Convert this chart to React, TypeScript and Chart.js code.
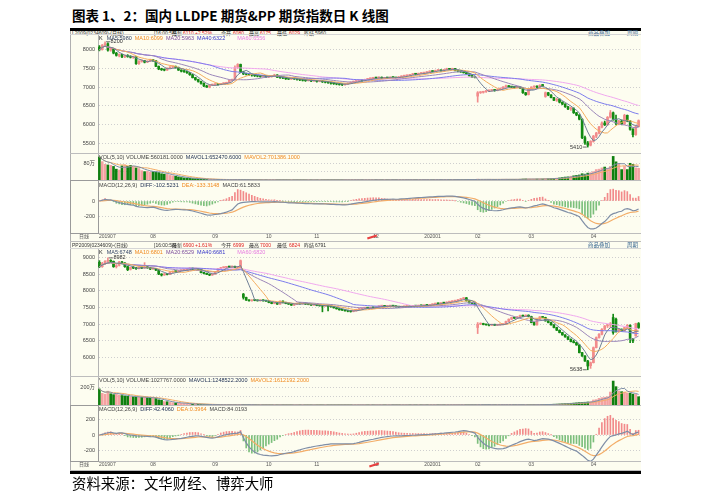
import React, { useEffect, useRef } from 'react';
import { Chart, registerables } from 'chart.js';

Chart.register(...registerables);

// ---------------- data ----------------
const monthNames = ['201907', '08', '09', '10', '11', '12', '202001', '02', '03', '04'];
const monthDays = [19, 22, 19, 17, 21, 20, 16, 19, 22, 17];

const maPeriods = [5, 10, 20, 40, 60];

const lldpePriceTicks = [5500, 6000, 6500, 7000, 7500, 8000];
const ppPriceTicks = [6000, 6500, 7000, 7500, 8000, 8500, 9000];

// [open, high, low, close]
const lldpeOHLC = [
  // Jul
  [8060, 8100, 7960, 7990], [7990, 8130, 7980, 8110], [8110, 8200, 8090, 8150], [8150, 8170, 7950, 7980], [7980, 8050, 7950, 8020],
  [8020, 8030, 7880, 7900], [7900, 7920, 7820, 7840], [7840, 7880, 7800, 7860], [7860, 7870, 7780, 7800], [7800, 7850, 7780, 7830],
  [7830, 7860, 7790, 7810], [7810, 7830, 7770, 7790], [7790, 7820, 7760, 7800], [7800, 7800, 7600, 7620], [7620, 7700, 7600, 7680],
  [7680, 7720, 7660, 7700], [7700, 7710, 7640, 7660], [7660, 7700, 7650, 7690], [7690, 7740, 7680, 7720],
  // Aug
  [7720, 7730, 7680, 7700], [7700, 7710, 7540, 7550], [7550, 7560, 7460, 7480], [7480, 7500, 7440, 7460], [7460, 7480, 7430, 7450],
  [7450, 7510, 7440, 7500], [7500, 7540, 7490, 7530], [7530, 7560, 7510, 7550], [7550, 7560, 7500, 7520], [7520, 7530, 7440, 7450],
  [7450, 7460, 7400, 7420], [7420, 7440, 7390, 7410], [7410, 7420, 7360, 7380], [7380, 7390, 7310, 7330], [7330, 7340, 7240, 7250],
  [7250, 7260, 7180, 7200], [7200, 7210, 7130, 7150], [7150, 7160, 7080, 7100], [7100, 7110, 7010, 7030], [7030, 7050, 6990, 7000],
  [7000, 7060, 6980, 7050], [7050, 7080, 7040, 7060],
  // Sep
  [7060, 7090, 7050, 7080], [7080, 7090, 7050, 7070], [7070, 7100, 7060, 7090], [7090, 7110, 7080, 7100], [7100, 7130, 7090, 7120],
  [7120, 7190, 7110, 7180], [7180, 7210, 7160, 7200], [7200, 7560, 7190, 7520], [7520, 7620, 7500, 7600], [7600, 7610, 7380, 7400],
  [7400, 7420, 7330, 7350], [7350, 7370, 7320, 7340], [7340, 7350, 7310, 7330], [7330, 7340, 7290, 7320], [7320, 7330, 7280, 7300],
  [7300, 7310, 7270, 7290], [7290, 7300, 7260, 7280], [7280, 7320, 7270, 7300], [7300, 7310, 7250, 7270],
  // Oct
  [7270, 7290, 7250, 7280], [7280, 7300, 7260, 7290], [7290, 7340, 7280, 7320], [7320, 7330, 7250, 7260], [7260, 7270, 7230, 7250],
  [7250, 7260, 7220, 7240], [7240, 7250, 7200, 7220], [7220, 7240, 7200, 7210], [7210, 7240, 7200, 7230], [7230, 7240, 7200, 7220],
  [7220, 7230, 7180, 7200], [7200, 7210, 7170, 7190], [7190, 7200, 7160, 7180], [7180, 7190, 7150, 7170], [7170, 7200, 7160, 7180],
  [7180, 7190, 7140, 7160], [7160, 7180, 7150, 7170],
  // Nov
  [7170, 7180, 7130, 7150], [7150, 7170, 7140, 7160], [7160, 7170, 7120, 7140], [7140, 7150, 7110, 7130], [7130, 7140, 7100, 7120],
  [7120, 7130, 7080, 7100], [7100, 7110, 7070, 7090], [7090, 7100, 7060, 7080], [7080, 7090, 7050, 7070], [7070, 7080, 7040, 7060],
  [7060, 7090, 7050, 7080], [7080, 7110, 7070, 7100], [7100, 7140, 7090, 7130], [7130, 7160, 7120, 7150], [7150, 7170, 7140, 7160],
  [7160, 7190, 7150, 7180], [7180, 7190, 7150, 7170], [7170, 7210, 7160, 7200], [7200, 7230, 7190, 7220], [7220, 7240, 7210, 7230],
  [7230, 7260, 7220, 7250],
  // Dec
  [7250, 7260, 7220, 7240], [7240, 7270, 7230, 7260], [7260, 7270, 7220, 7230], [7230, 7260, 7220, 7250], [7250, 7260, 7230, 7240],
  [7240, 7270, 7230, 7260], [7260, 7270, 7240, 7250], [7250, 7260, 7230, 7240], [7240, 7280, 7230, 7270], [7270, 7300, 7260, 7290],
  [7290, 7310, 7280, 7300], [7300, 7320, 7290, 7310], [7310, 7340, 7300, 7330], [7330, 7360, 7320, 7350], [7350, 7360, 7320, 7340],
  [7340, 7370, 7330, 7360], [7360, 7380, 7350, 7370], [7370, 7390, 7360, 7380], [7380, 7410, 7370, 7400], [7400, 7430, 7390, 7420],
  // Jan
  [7420, 7430, 7400, 7410], [7410, 7450, 7400, 7440], [7440, 7460, 7430, 7450], [7450, 7460, 7420, 7430], [7430, 7470, 7420, 7460],
  [7460, 7500, 7450, 7480], [7480, 7490, 7460, 7470], [7470, 7500, 7460, 7490], [7490, 7500, 7430, 7440], [7440, 7450, 7400, 7420],
  [7420, 7430, 7390, 7400], [7400, 7410, 7370, 7380], [7380, 7390, 7340, 7350], [7350, 7360, 7290, 7300], [7300, 7310, 7250, 7260],
  [7260, 7270, 7240, 7250],
  // Feb
  [6760, 6880, 6600, 6850], [6850, 6880, 6830, 6860], [6860, 6890, 6840, 6880], [6880, 6910, 6860, 6900], [6900, 6920, 6880, 6910],
  [6910, 6930, 6890, 6920], [6920, 6930, 6890, 6910], [6910, 6950, 6900, 6930], [6930, 6980, 6920, 6960], [6960, 7010, 6950, 7000],
  [7000, 7050, 6990, 7030], [7030, 7040, 7000, 7010], [7010, 7020, 6980, 7000], [7000, 7010, 6970, 6990], [6990, 7020, 6980, 7000],
  [7000, 7010, 6960, 6980], [6980, 6990, 6830, 6850], [6850, 6860, 6780, 6800], [6800, 6960, 6790, 6950],
  // Mar
  [6950, 7010, 6940, 7000], [7000, 7030, 6990, 7020], [7020, 7030, 6980, 7000], [7000, 7060, 6990, 7050], [7050, 7070, 7020, 7040],
  [6750, 6870, 6730, 6850], [6850, 6860, 6770, 6790], [6790, 6800, 6710, 6720], [6720, 6730, 6640, 6650], [6650, 6700, 6620, 6680],
  [6680, 6690, 6580, 6600], [6600, 6610, 6530, 6550], [6550, 6560, 6460, 6480], [6480, 6490, 6400, 6420], [6420, 6460, 6380, 6440],
  [6440, 6450, 6300, 6320], [6320, 6330, 6240, 6260], [6260, 6270, 6130, 6150], [6150, 6160, 5630, 5660], [5660, 5700, 5480, 5520],
  [5520, 5560, 5410, 5460], [5460, 5580, 5440, 5560],
  // Apr
  [5560, 5720, 5540, 5700], [5700, 5800, 5660, 5780], [5780, 5960, 5760, 5940], [5940, 6080, 5920, 6050], [6050, 6100, 5980, 6000],
  [6000, 6220, 5990, 6200], [6200, 6380, 6180, 6320], [6320, 6340, 6120, 6150], [6150, 6260, 6000, 6040], [6040, 6120, 6000, 6100],
  [6100, 6130, 6000, 6020], [6020, 6280, 6010, 6250], [6250, 6260, 6080, 6100], [6100, 6110, 5860, 5880], [5880, 5900, 5680, 5740],
  [5740, 5980, 5720, 5950], [5950, 6130, 5940, 6110],
];

// volume, 万手
const lldpeVolume = [
  110, 88, 75, 72, 70, 65, 52, 48, 68, 72,
  66, 70, 62, 58, 55, 45, 40, 42, 38, 40,
  38, 36, 30, 28, 27, 22, 20, 18, 15, 12,
  10, 9, 8, 7, 6, 5, 4, 4, 3, 3,
  2.5, 2, 2, 1.8, 1.5, 1.5, 1.2, 1.2, 2.5, 2,
  1.5, 1.2, 1, 1, 0.9, 0.8, 0.8, 0.9, 0.7, 0.8,
  0.7, 0.8, 0.9, 0.8, 0.7, 0.7, 0.8, 0.6, 0.7, 0.7,
  0.6, 0.7, 0.8, 0.7, 0.6, 0.7, 0.8, 0.7, 0.6, 0.7,
  0.7, 0.8, 0.7, 0.9, 0.8, 0.7, 0.8, 0.9, 1, 0.9,
  1, 1.1, 1, 0.9, 1, 1.1, 1.2, 1, 1.1, 1.2,
  1.1, 1, 1.2, 1.3, 1.1, 1.2, 1.3, 1.4, 1.2, 1.3,
  1.4, 1.5, 1.3, 1.4, 1.5, 1.6, 1.4, 1.5, 1.6, 1.5,
  1.7, 1.6, 1.5, 1.8, 1.7, 1.6, 1.9, 2, 1.8, 2,
  2.2, 2.5, 2.3, 2.4, 4, 3, 2.8, 2.6, 2.5, 2.7,
  2.8, 2.6, 3, 3.2, 3.5, 3, 2.8, 3, 3.3, 3.5,
  4.5, 5, 4.8, 4.2, 4, 4.5, 5, 4.8, 6.5, 6,
  7, 8, 9, 10, 12, 14, 15, 18, 20, 22,
  24, 30, 28, 33, 35, 40, 50, 52, 58, 62,
  55, 65, 113, 87, 75, 50, 65, 50, 80, 75,
  58, 56,
];

const ppOHLC = [
  // Jul
  [8850, 8900, 8690, 8720], [8720, 8850, 8700, 8820], [8820, 8900, 8780, 8880], [8880, 8982, 8850, 8900], [8900, 8930, 8850, 8880],
  [8880, 8890, 8700, 8720], [8720, 8780, 8680, 8750], [8760, 8880, 8740, 8860], [8860, 8880, 8800, 8830], [8830, 8840, 8700, 8720],
  [8720, 8730, 8600, 8630], [8640, 8710, 8620, 8700], [8700, 8720, 8660, 8680], [8680, 8700, 8640, 8660], [8660, 8720, 8650, 8700],
  [8700, 8710, 8660, 8680], [8680, 8840, 8670, 8700], [8700, 8720, 8670, 8690], [8690, 8700, 8630, 8650],
  // Aug
  [8650, 8680, 8640, 8660], [8660, 8670, 8600, 8620], [8620, 8630, 8480, 8500], [8500, 8510, 8440, 8470], [8470, 8520, 8460, 8500],
  [8500, 8520, 8470, 8490], [8490, 8570, 8480, 8560], [8560, 8590, 8540, 8580], [8580, 8590, 8550, 8570], [8570, 8610, 8560, 8600],
  [8600, 8620, 8590, 8610], [8610, 8640, 8600, 8630], [8630, 8660, 8620, 8650], [8650, 8690, 8640, 8670], [8670, 8680, 8630, 8650],
  [8650, 8670, 8640, 8660], [8660, 8670, 8620, 8640], [8640, 8650, 8530, 8540], [8540, 8550, 8500, 8520], [8520, 8530, 8480, 8490],
  [8490, 8500, 8450, 8470], [8470, 8510, 8460, 8500],
  // Sep
  [8500, 8580, 8490, 8570], [8570, 8670, 8560, 8660], [8660, 8700, 8650, 8690], [8690, 8710, 8680, 8700], [8700, 8730, 8690, 8720],
  [8720, 8730, 8690, 8710], [8710, 8740, 8700, 8730], [8730, 8740, 8690, 8700], [8700, 8730, 8690, 8720], [8700, 8920, 8690, 8900],
  [7900, 7920, 7750, 7800], [7800, 7810, 7710, 7720], [7720, 7730, 7690, 7700], [7700, 7730, 7690, 7720], [7720, 7730, 7700, 7710],
  [7710, 7720, 7690, 7700], [7700, 7730, 7690, 7720], [7720, 7730, 7690, 7700], [7700, 7710, 7680, 7690],
  // Oct
  [7690, 7700, 7640, 7650], [7650, 7660, 7610, 7620], [7620, 7650, 7610, 7640], [7640, 7650, 7590, 7600], [7600, 7700, 7590, 7690],
  [7690, 7700, 7640, 7650], [7650, 7660, 7610, 7620], [7620, 7630, 7590, 7600], [7600, 7610, 7560, 7570], [7570, 7610, 7560, 7600],
  [7600, 7630, 7590, 7620], [7620, 7630, 7600, 7610], [7610, 7640, 7600, 7630], [7630, 7640, 7590, 7600], [7600, 7610, 7580, 7590],
  [7590, 7600, 7560, 7570], [7570, 7590, 7560, 7580],
  // Nov
  [7580, 7590, 7550, 7560], [7560, 7570, 7540, 7550], [7550, 7560, 7370, 7540], [7540, 7570, 7530, 7560], [7560, 7570, 7400, 7530],
  [7530, 7540, 7510, 7520], [7520, 7530, 7480, 7490], [7490, 7500, 7450, 7460], [7460, 7470, 7420, 7430], [7430, 7440, 7410, 7420],
  [7420, 7430, 7390, 7400], [7400, 7410, 7370, 7390], [7390, 7400, 7360, 7380], [7380, 7410, 7370, 7400], [7400, 7450, 7390, 7440],
  [7440, 7470, 7430, 7460], [7460, 7490, 7450, 7480], [7480, 7500, 7470, 7490], [7490, 7500, 7470, 7480], [7480, 7510, 7470, 7500],
  [7500, 7510, 7480, 7490],
  // Dec
  [7490, 7530, 7480, 7520], [7520, 7550, 7510, 7540], [7540, 7560, 7530, 7550], [7550, 7560, 7520, 7530], [7530, 7550, 7520, 7540],
  [7540, 7560, 7530, 7550], [7550, 7560, 7530, 7540], [7540, 7550, 7510, 7520], [7520, 7530, 7500, 7510], [7510, 7530, 7500, 7520],
  [7520, 7540, 7510, 7530], [7530, 7550, 7520, 7540], [7540, 7550, 7520, 7530], [7530, 7560, 7520, 7550], [7550, 7560, 7530, 7540],
  [7540, 7570, 7530, 7560], [7560, 7570, 7540, 7550], [7550, 7580, 7540, 7570], [7570, 7580, 7550, 7560], [7560, 7590, 7550, 7580],
  // Jan
  [7580, 7610, 7570, 7600], [7600, 7630, 7590, 7620], [7620, 7630, 7600, 7610], [7610, 7650, 7600, 7640], [7640, 7650, 7620, 7630],
  [7630, 7670, 7620, 7660], [7660, 7680, 7650, 7670], [7670, 7700, 7660, 7690], [7690, 7710, 7680, 7700], [7700, 7740, 7690, 7730],
  [7730, 7770, 7720, 7760], [7760, 7800, 7750, 7790], [7790, 7800, 7690, 7700], [7700, 7710, 7630, 7640], [7640, 7650, 7610, 7620],
  [7620, 7630, 7550, 7560],
  // Feb
  [6900, 7050, 6720, 7000], [7000, 7040, 6990, 7020], [7020, 7030, 6980, 6990], [6990, 7000, 6970, 6980], [6980, 6990, 6950, 6970],
  [6970, 7000, 6960, 6990], [6990, 7000, 6960, 6970], [6970, 6990, 6960, 6980], [6980, 7000, 6970, 6990], [6990, 7010, 6980, 7000],
  [7000, 7090, 6990, 7080], [7080, 7160, 7070, 7150], [7150, 7210, 7140, 7200], [7200, 7210, 7170, 7180], [7180, 7230, 7170, 7220],
  [7220, 7270, 7210, 7260], [7260, 7270, 7230, 7240], [7240, 7280, 7230, 7270], [7270, 7280, 7220, 7230],
  // Mar
  [7230, 7240, 7040, 7050], [7050, 7060, 6970, 6980], [6980, 7160, 6970, 7150], [7150, 7230, 7140, 7220], [7220, 7230, 7190, 7200],
  [7200, 7210, 7090, 7100], [7100, 7110, 7040, 7050], [7050, 7060, 6970, 6980], [6980, 6990, 6890, 6900], [6900, 6910, 6810, 6820],
  [6820, 6830, 6740, 6750], [6750, 6760, 6670, 6680], [6680, 6690, 6610, 6620], [6620, 6630, 6540, 6550], [6550, 6560, 6470, 6480],
  [6480, 6520, 6440, 6450], [6450, 6460, 6370, 6380], [6380, 6390, 6140, 6150], [6150, 6160, 6040, 6050], [6050, 6060, 5890, 5900],
  [5900, 5920, 5638, 5750], [5760, 5870, 5680, 5850],
  // Apr
  [5850, 6320, 5840, 6300], [6300, 6620, 6290, 6600], [6600, 6720, 6580, 6700], [6700, 6870, 6680, 6850], [6850, 6960, 6830, 6950],
  [6950, 7000, 6900, 6980], [6980, 7050, 6900, 7000], [7200, 7300, 6700, 6750], [7150, 7180, 6760, 6780], [6780, 6870, 6760, 6850],
  [6850, 6860, 6790, 6800], [6800, 6910, 6790, 6900], [6900, 6990, 6880, 6970], [6970, 6980, 6450, 6550], [6550, 6580, 6450, 6500],
  [6650, 7030, 6640, 7020], [7020, 7050, 6870, 6900],
];

const ppVolume = [
  185, 135, 125, 160, 130, 120, 130, 115, 110, 105,
  100, 95, 95, 92, 90, 88, 90, 85, 80, 78,
  75, 60, 55, 40, 38, 30, 27, 25, 22, 19,
  17, 14, 12, 10, 9, 8, 7, 6, 5, 4,
  4, 3.5, 3, 3, 2.5, 2.5, 2, 2, 2, 3,
  4, 5, 3, 2.5, 2, 2, 1.8, 1.6, 1.5, 1.5,
  1.5, 1.4, 1.5, 1.3, 1.6, 1.4, 1.3, 1.2, 1.3, 1.2,
  1.2, 1.1, 1.2, 1.1, 1.0, 1.1, 1.2, 1.0, 1.1, 1.2,
  1.1, 1.2, 1.0, 1.1, 1.2, 1.3, 1.1, 1.2, 1.3, 1.2,
  1.3, 1.2, 1.4, 1.3, 1.2, 1.3, 1.4, 1.3, 1.5, 1.4,
  1.5, 1.4, 1.6, 1.5, 1.4, 1.6, 1.5, 1.7, 1.6, 1.5,
  1.7, 1.6, 1.8, 1.7, 1.6, 1.8, 1.9, 1.7, 1.8, 2.0,
  1.9, 2.0, 2.1, 1.9, 2.2, 2.0, 2.3, 2.1, 2.4, 2.2,
  2.5, 2.3, 2.4, 2.6, 6, 3.5, 3, 2.8, 3.2, 3,
  3.1, 2.9, 3.3, 3.1, 3.5, 3.3, 3.6, 3.4, 3.8, 3.6,
  2, 2, 3, 3, 4, 4, 5, 5, 6, 7,
  8, 9, 10, 12, 14, 16, 18, 20, 22, 25,
  28, 30, 32, 35, 40, 58, 62, 77, 85, 90,
  96, 150, 277, 212, 162, 154, 150, 135, 135, 125,
  123, 96,
];

// legend readings shown in the reference
const lldpeMALast = ['5980', '6099', '5963', '6322', '6556'];
const lldpeVolLegend = ['560181.0000', '652470.6000', '701386.1000'];
const lldpeMacdLegend = ['-102.5231', '-133.3148', '61.5833'];
const lldpeQuote = ['L2009(0234609)-(日线)', '6110', '+2.52%', '6080', '6175', '6029', '5960'];

const ppMALast = ['6748', '6801', '6529', '6681', '6820'];
const ppVolLegend = ['1027767.0000', '1248522.2000', '1612192.2000'];
const ppMacdLegend = ['42.4060', '0.3964', '84.0193'];
const ppQuote = ['PP2009(0234609)-(日线)', '6900', '+1.61%', '6999', '7000', '6824', '6791'];

// ---------------- styling ----------------
const FONT = '"Liberation Sans", "Noto Sans CJK SC", sans-serif';
const CREAM = '#fdfdf0';
const UP = '#f28c8c';
const DOWN = '#138a13';
const VOL_UP = '#f4a2a2';
const VOL_DOWN = '#0f7f0f';
const HIST_UP = '#f28a8a';
const HIST_DOWN = '#7cbf7c';
const DIFF_C = '#7f8ea6';
const DEA_C = '#f3ad68';
const MA_COLORS = ['#6f7f96', '#f4ac5e', '#9b86b9', '#7c7cec', '#f0a8ee'];
const MA_TEXT = ['#334466', '#f08a20', '#7a4a9a', '#3535c8', '#e67ae0'];
const RED = '#e02020';
const LINK = '#35648f';
const AXIS_W = 28;
const CANVAS_LEFT = 70;
const CANVAS_W = 570;

// ---------------- helpers ----------------
const dayLabels: string[] = [];
const monthStart: number[] = [];
monthDays.forEach((n, m) => {
  monthStart.push(dayLabels.length);
  for (let d = 1; d <= n; d++) dayLabels.push(`${monthNames[m]}-${d}`);
});

function sma(v: number[], n: number) {
  return v.map((_, i) => {
    const s = Math.max(0, i - n + 1);
    let t = 0;
    for (let k = s; k <= i; k++) t += v[k];
    return t / (i - s + 1);
  });
}
function ema(v: number[], n: number) {
  const a = 2 / (n + 1);
  const out: number[] = [];
  v.forEach((x, i) => out.push(i === 0 ? x : out[i - 1] + a * (x - out[i - 1])));
  return out;
}
function macd(closes: number[]) {
  const e12 = ema(closes, 12);
  const e26 = ema(closes, 26);
  const diff = e12.map((x, i) => x - e26[i]);
  const dea = ema(diff, 9);
  const hist = diff.map((d, i) => 2 * (d - dea[i]));
  return { diff, dea, hist };
}

function yAxis(min: number, max: number, ticks: number[], label: (v: number) => string) {
  return {
    type: 'linear',
    min,
    max,
    afterBuildTicks: (s: any) => {
      s.ticks = ticks.map((v) => ({ value: v }));
    },
    afterFit: (s: any) => {
      s.width = AXIS_W;
      s.paddingTop = 0;
      s.paddingBottom = 0;
    },
    ticks: { callback: (v: any) => label(Number(v)), font: { size: 5.5, family: FONT }, color: '#444', padding: 3, autoSkip: false },
    grid: { color: '#cfcfcf', drawTicks: false, lineWidth: 1 },
    border: { display: true, color: '#b4b4b4', dash: [1, 2] },
  };
}

function baseOptions(y: any, padBottom = 0) {
  return {
    animation: false,
    responsive: false,
    maintainAspectRatio: false,
    events: [],
    layout: { padding: { top: 0, left: 0, right: 0, bottom: padBottom } },
    plugins: { legend: { display: false }, tooltip: { enabled: false } },
    scales: {
      x: { type: 'category', display: false, offset: true, grid: { display: false } },
      y,
    },
  };
}

const hiLoPlugin = (ohlc: number[][]) => ({
  id: 'hilo',
  afterDatasetsDraw(chart: any) {
    const { ctx, scales } = chart;
    const x = scales.x;
    const y = scales.y;
    let hi = 0;
    let lo = 0;
    ohlc.forEach((r, i) => {
      if (r[1] > ohlc[hi][1]) hi = i;
      if (r[2] < ohlc[lo][2]) lo = i;
    });
    ctx.save();
    ctx.font = `5.5px ${FONT}`;
    ctx.fillStyle = '#333';
    ctx.strokeStyle = '#444';
    ctx.lineWidth = 0.8;
    ctx.textBaseline = 'middle';
    const hx = x.getPixelForValue(hi);
    const hy = y.getPixelForValue(ohlc[hi][1]);
    ctx.beginPath();
    ctx.moveTo(hx + 1, hy);
    ctx.lineTo(hx + 5, hy);
    ctx.stroke();
    ctx.textAlign = 'left';
    ctx.fillText(String(ohlc[hi][1]), hx + 5.5, hy);
    const lx = x.getPixelForValue(lo);
    const ly = y.getPixelForValue(ohlc[lo][2]);
    ctx.beginPath();
    ctx.moveTo(lx - 1, ly);
    ctx.lineTo(lx - 5, ly);
    ctx.stroke();
    ctx.textAlign = 'right';
    ctx.fillText(String(ohlc[lo][2]), lx - 5.5, ly);
    ctx.restore();
  },
});

const dateRowPlugin = {
  id: 'dateRow',
  afterDraw(chart: any) {
    const { ctx, chartArea, scales } = chart;
    const x = scales.x;
    const yMid = chartArea.bottom + 4;
    ctx.save();
    ctx.font = `5px ${FONT}`;
    ctx.fillStyle = '#555';
    ctx.textBaseline = 'middle';
    ctx.textAlign = 'right';
    ctx.fillText('日线', chartArea.left - 9, yMid);
    monthStart.forEach((idx, k) => {
      const px = x.getPixelForValue(idx);
      ctx.textAlign = k === 0 ? 'left' : 'center';
      ctx.fillText(monthNames[k], k === 0 ? chartArea.left + 1 : px, yMid);
    });
    ctx.restore();
  },
};

function priceConfig(cfg: any) {
  const ohlc: number[][] = cfg.ohlc;
  const closes = ohlc.map((r) => r[3]);
  const colors = ohlc.map((r) => (r[3] >= r[0] ? UP : DOWN));
  const maDs = maPeriods.map((n, k) => ({
    type: 'line',
    data: sma(closes, n),
    borderColor: MA_COLORS[k],
    borderWidth: 1,
    pointRadius: 0,
    tension: 0,
    order: 0,
  }));
  return {
    type: 'bar',
    data: {
      labels: dayLabels,
      datasets: [
        ...maDs,
        { type: 'bar', data: ohlc.map((r) => [r[2], r[1]]), backgroundColor: colors, barThickness: 1, grouped: false, order: 2 },
        {
          type: 'bar',
          data: ohlc.map((r) => [Math.min(r[0], r[3]), Math.max(r[0], r[3])]),
          backgroundColor: colors,
          barThickness: 2,
          grouped: false,
          minBarLength: 1,
          order: 1,
        },
      ],
    },
    options: baseOptions(yAxis(cfg.priceMin, cfg.priceMax, cfg.priceTicks, (v) => String(v))),
    plugins: [hiLoPlugin(ohlc)],
  };
}

function volumeConfig(cfg: any) {
  const ohlc: number[][] = cfg.ohlc;
  const vol: number[] = cfg.volume;
  const colors = ohlc.map((r) => (r[3] >= r[0] ? VOL_UP : VOL_DOWN));
  return {
    type: 'bar',
    data: {
      labels: dayLabels,
      datasets: [
        { type: 'line', data: sma(vol, 5), borderColor: DIFF_C, borderWidth: 1, pointRadius: 0, order: 0 },
        { type: 'line', data: sma(vol, 10), borderColor: DEA_C, borderWidth: 1, pointRadius: 0, order: 0 },
        { type: 'bar', data: vol, backgroundColor: colors, barThickness: 2, grouped: false, order: 1 },
      ],
    },
    options: baseOptions(yAxis(0, cfg.volMax, cfg.volTicks, (v) => (v === cfg.volLabelTick ? `${v}万` : ''))),
  };
}

function macdConfig(cfg: any) {
  const closes = cfg.ohlc.map((r: number[]) => r[3]);
  const m = macd(closes);
  return {
    type: 'bar',
    data: {
      labels: dayLabels,
      datasets: [
        { type: 'line', data: m.diff, borderColor: DIFF_C, borderWidth: 1.2, pointRadius: 0, order: 0 },
        { type: 'line', data: m.dea, borderColor: DEA_C, borderWidth: 1.2, pointRadius: 0, order: 0 },
        {
          type: 'bar',
          data: m.hist,
          backgroundColor: m.hist.map((h) => (h >= 0 ? HIST_UP : HIST_DOWN)),
          barThickness: 1,
          grouped: false,
          order: 1,
        },
      ],
    },
    options: baseOptions(yAxis(cfg.macdMin, cfg.macdMax, cfg.macdTicks, (v) => String(v)), 8),
    plugins: [dateRowPlugin],
  };
}

// ---------------- components ----------------
function HLine({ top, color = '#bdbdbd', left = 70, width = 571 }: any) {
  return <div style={{ position: 'absolute', left, top, width, height: 1, background: color }} />;
}

function Tiny({ x, y, color = '#333', size = 5.5, children }: any) {
  return (
    <div style={{ position: 'absolute', left: x, top: y, color, fontSize: size, lineHeight: 1, fontFamily: FONT, whiteSpace: 'nowrap' }}>
      {children}
    </div>
  );
}

function Seg({ color, children, gap = 3 }: any) {
  return <span style={{ color, marginRight: gap }}>{children}</span>;
}

function StockChart({ cfg }: any) {
  const pRef = useRef<HTMLCanvasElement>(null);
  const vRef = useRef<HTMLCanvasElement>(null);
  const mRef = useRef<HTMLCanvasElement>(null);
  useEffect(() => {
    const charts = [
      new Chart(pRef.current as any, priceConfig(cfg) as any),
      new Chart(vRef.current as any, volumeConfig(cfg) as any),
      new Chart(mRef.current as any, macdConfig(cfg) as any),
    ];
    return () => charts.forEach((c) => c.destroy());
  }, []);
  const g = cfg.geo;
  const q = cfg.quote;
  const canvasStyle = (top: number, h: number) => ({ position: 'absolute' as const, left: CANVAS_LEFT, top, width: CANVAS_W, height: h });
  return (
    <>
      <div style={{ position: 'absolute', left: 70, top: g.top, width: 571, height: g.bottom - g.top, background: CREAM }} />
      <div style={{ position: 'absolute', left: 70, top: g.top, width: 1, height: g.bottom - g.top, background: '#b0b0b0' }} />
      {/* header row */}
      <Tiny x={72} y={g.headerY} size={5}>{q[0]}</Tiny>
      <Tiny x={154} y={g.headerY} size={5}>[16:00:58]</Tiny>
      <Tiny x={172} y={g.headerY} size={5}>最新</Tiny>
      <Tiny x={183} y={g.headerY} size={5} color={RED}>{q[1]}</Tiny>
      <Tiny x={195} y={g.headerY} size={5} color={RED}>{q[2]}</Tiny>
      <Tiny x={221} y={g.headerY} size={5}>今开</Tiny>
      <Tiny x={233} y={g.headerY} size={5} color={RED}>{q[3]}</Tiny>
      <Tiny x={249} y={g.headerY} size={5}>最高</Tiny>
      <Tiny x={260} y={g.headerY} size={5} color={RED}>{q[4]}</Tiny>
      <Tiny x={277} y={g.headerY} size={5}>最低</Tiny>
      <Tiny x={289} y={g.headerY} size={5} color={RED}>{q[5]}</Tiny>
      <Tiny x={304} y={g.headerY} size={5}>昨结</Tiny>
      <Tiny x={315} y={g.headerY} size={5}>{q[6]}</Tiny>
      <Tiny x={588} y={g.headerY} size={5.5} color={LINK}>商品叠加</Tiny>
      <Tiny x={627} y={g.headerY} size={5.5} color={LINK}>周期</Tiny>
      <HLine top={g.priceTop - 1} color="#d6d6d6" />

      <canvas ref={pRef} width={CANVAS_W} height={g.priceH} style={canvasStyle(g.priceTop, g.priceH)} />
      <canvas ref={vRef} width={CANVAS_W} height={g.volH} style={canvasStyle(g.volTop, g.volH)} />
      <canvas ref={mRef} width={CANVAS_W} height={g.macdH + 8} style={canvasStyle(g.macdTop, g.macdH + 8)} />

      <HLine top={g.priceTop + g.priceH} />
      <HLine top={g.volTop + g.volH} />
      <HLine top={g.macdTop + g.macdH} />
      <HLine top={g.bottom - 1} />
      <div
        style={{
          position: 'absolute',
          left: 70,
          top: g.volTop + g.volH,
          width: 27,
          height: g.macdTop + g.macdH - (g.volTop + g.volH) - 1,
          border: '1px solid #9a9a9a',
        }}
      />
      <div
        style={{
          position: 'absolute',
          left: g.markX,
          top: g.macdTop + g.macdH + 3,
          width: 10,
          height: 1.5,
          background: '#e84040',
          transform: 'rotate(-18deg)',
        }}
      />

      {/* panel legends */}
      <Tiny x={99} y={g.priceTop + g.legendDy}>
        <Seg color="#222" gap={4}>K</Seg>
        {maPeriods.map((n, k) => (
          <Seg key={n} color={MA_TEXT[k]} gap={k === 3 ? 12 : 3}>
            MA{n}:{cfg.maLast[k]}
          </Seg>
        ))}
      </Tiny>
      <Tiny x={99} y={g.volTop + 1}>
        <Seg color="#444">VOL(5,10) VOLUME:{cfg.volLegend[0]}</Seg>
        <Seg color="#223355">MAVOL1:{cfg.volLegend[1]}</Seg>
        <Seg color={MA_TEXT[1]}>MAVOL2:{cfg.volLegend[2]}</Seg>
      </Tiny>
      <Tiny x={99} y={g.macdTop + 1}>
        <Seg color="#444">MACD(12,26,9)</Seg>
        <Seg color="#223355">DIFF:{cfg.macdLegend[0]}</Seg>
        <Seg color={MA_TEXT[1]}>DEA:{cfg.macdLegend[1]}</Seg>
        <Seg color="#444">MACD:{cfg.macdLegend[2]}</Seg>
      </Tiny>
    </>
  );
}

const lldpeCfg = {
  ohlc: lldpeOHLC,
  volume: lldpeVolume,
  maLast: lldpeMALast,
  volLegend: lldpeVolLegend,
  macdLegend: lldpeMacdLegend,
  quote: lldpeQuote,
  priceMin: 5253,
  priceMax: 8380,
  priceTicks: lldpePriceTicks,
  volMax: 124.5,
  volTicks: [40, 80],
  volLabelTick: 80,
  macdMin: -408,
  macdMax: 242,
  macdTicks: [-200, 0],
  geo: { top: 31, bottom: 242, headerY: 31, priceTop: 35, priceH: 118, volTop: 154, volH: 26, macdTop: 182, macdH: 51, markX: 367, legendDy: 0.5 },
};

const ppCfg = {
  ohlc: ppOHLC,
  volume: ppVolume,
  maLast: ppMALast,
  volLegend: ppVolLegend,
  macdLegend: ppMacdLegend,
  quote: ppQuote,
  priceMin: 5452,
  priceMax: 9248,
  priceTicks: ppPriceTicks,
  volMax: 324,
  volTicks: [100, 200],
  volLabelTick: 200,
  macdMin: -328,
  macdMax: 366,
  macdTicks: [-200, 0, 200],
  geo: { top: 242, bottom: 471, headerY: 243, priceTop: 249, priceH: 127, volTop: 377, volH: 28, macdTop: 406, macdH: 55, markX: 369, legendDy: 0.5 },
};

export default function App() {
  return (
    <div style={{ position: 'absolute', left: 0, top: 0, width: 704, height: 500, background: '#fff', overflow: 'hidden' }}>
      <div
        style={{
          position: 'absolute',
          left: 72,
          top: 6,
          fontFamily: '"Noto Sans CJK SC", sans-serif',
          fontWeight: 700,
          fontSize: 13.5,
          lineHeight: '18px',
          color: '#000',
          whiteSpace: 'pre',
        }}
      >
        图表 1、2：国内 LLDPE 期货&amp;PP 期货指数日 K 线图
      </div>
      <div style={{ position: 'absolute', left: 70, top: 28, width: 571, height: 3, background: '#000' }} />
      <StockChart cfg={lldpeCfg} />
      <StockChart cfg={ppCfg} />
      <div style={{ position: 'absolute', left: 70, top: 471, width: 571, height: 3, background: '#000' }} />
      <div
        style={{
          position: 'absolute',
          left: 72,
          top: 474,
          fontFamily: '"Noto Sans CJK SC", sans-serif',
          fontSize: 14.4,
          lineHeight: '18px',
          color: '#000',
          whiteSpace: 'pre',
        }}
      >
        资料来源：文华财经、博弈大师
      </div>
    </div>
  );
}
